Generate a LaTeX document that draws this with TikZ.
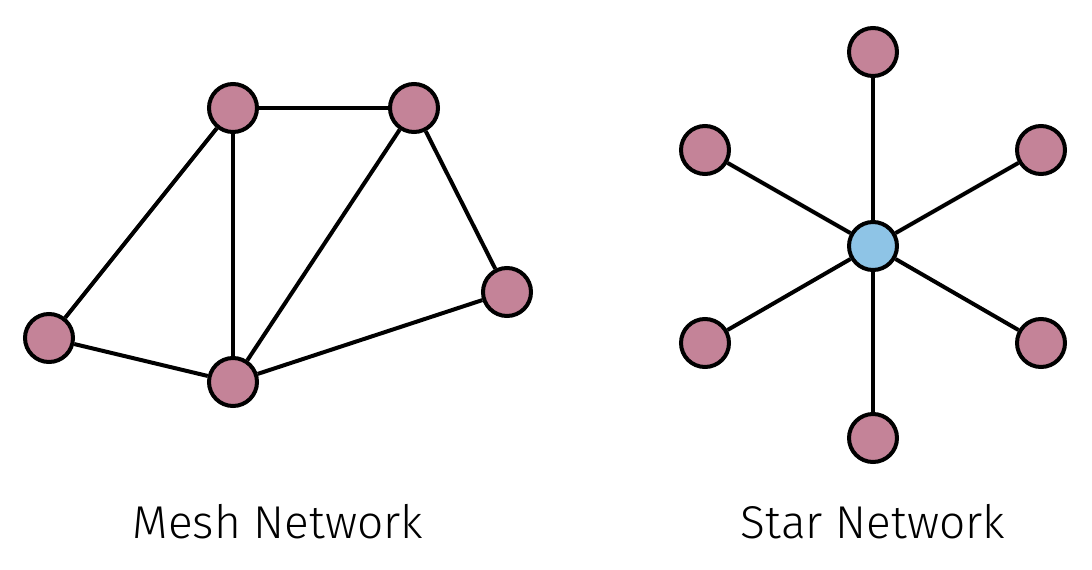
\documentclass[tikz,border=0pt]{standalone}
\usepackage{fontspec}
\setmainfont{Fira Sans}[UprightFont=* Light]
\definecolor{pinknode}{HTML}{C48398}
\definecolor{bluenode}{HTML}{8EC4E6}
\begin{document}
\begin{tikzpicture}[x=1pt,y=-1pt,
  nd/.style={circle,draw=black,line width=4pt,fill=pinknode,minimum size=48pt,inner sep=0pt},
  hub/.style={nd,fill=bluenode},
  edge/.style={line width=4pt,draw=black},
  lbl/.style={font=\fontsize{46}{54}\selectfont,inner sep=0pt}]
\useasboundingbox (0,0) rectangle (1092,570);
% mesh
\node[nd] (A) at (233,108) {};
\node[nd] (B) at (414,108) {};
\node[nd] (C) at (49,338) {};
\node[nd] (D) at (233,382) {};
\node[nd] (E) at (507,292) {};
\draw[edge] (A) -- (B);
\draw[edge] (A) -- (C);
\draw[edge] (A) -- (D);
\draw[edge] (B) -- (D);
\draw[edge] (B) -- (E);
\draw[edge] (C) -- (D);
\draw[edge] (D) -- (E);
% star
\node[hub] (H) at (873,246) {};
\node[nd] (S1) at (873,52) {};
\node[nd] (S2) at (705,150) {};
\node[nd] (S3) at (1041,150) {};
\node[nd] (S4) at (705,343) {};
\node[nd] (S5) at (1041,343) {};
\node[nd] (S6) at (873,438) {};
\foreach \s in {S1,S2,S3,S4,S5,S6} \draw[edge] (H) -- (\s);
\node[lbl] (L1) at (278,522) {Mesh Network};
\node[lbl] (L2) at (873,522) {Star Network};
\end{tikzpicture}
\end{document}
